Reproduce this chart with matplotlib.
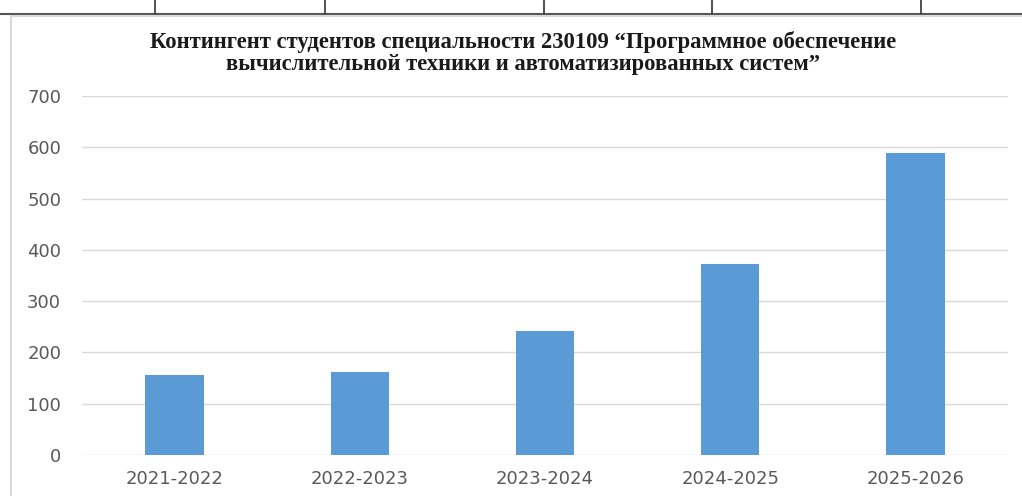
import numpy as np
import matplotlib.pyplot as plt
from matplotlib.lines import Line2D

years = ['2021-2022', '2022-2023', '2023-2024', '2024-2025', '2025-2026']
students = [156, 162, 242, 372, 589]
y_ticks = [0, 100, 200, 300, 400, 500, 600, 700]

title = ('Контингент студентов специальности 230109 \u201cПрограммное обеспечение\n'
         'вычислительной техники и автоматизированных систем\u201d')

fig = plt.figure(figsize=(10.22, 4.96), dpi=100)
W, H = 1022, 496

# table lines above the chart
fig.add_artist(Line2D([0, 1], [1 - 13.5 / H, 1 - 13.5 / H], color='#555555', lw=1.5))
for xc in [155, 325, 544, 712, 921]:
    fig.add_artist(Line2D([xc / W, xc / W], [1 - 13 / H, 1], color='#333333', lw=1.2))
# chart border
fig.add_artist(Line2D([11 / W, 1], [1 - 16 / H, 1 - 16 / H], color='#d9d9d9', lw=1.5))
fig.add_artist(Line2D([11 / W, 11 / W], [0, 1 - 16 / H], color='#d9d9d9', lw=1.5))

ax = fig.add_axes([82 / W, 1 - 455 / H, (1008 - 82) / W, (455 - 96) / H])
x = np.arange(len(years))
ax.bar(x, students, width=0.315, color='#5b9bd5', zorder=3)
ax.set_xlim(-0.5, len(years) - 0.5)
ax.set_ylim(0, 700)
ax.set_yticks(y_ticks)
ax.set_xticks(x)
ax.set_xticklabels(years)
ax.grid(axis='y', color='#d9d9d9', lw=1, zorder=0)
for s in ax.spines.values():
    s.set_visible(False)
ax.tick_params(length=0, labelsize=13, colors='#595959')
ax.tick_params(axis='x', pad=11)
ax.tick_params(axis='y', pad=15)

fig.text(523 / W, 1 - 53 / H, title, ha='center', va='center', fontsize=16.3,
         fontweight='bold', family='Liberation Serif', linespacing=1.02, color='#1a1a1a')

fig.savefig('out.png', dpi=100)
